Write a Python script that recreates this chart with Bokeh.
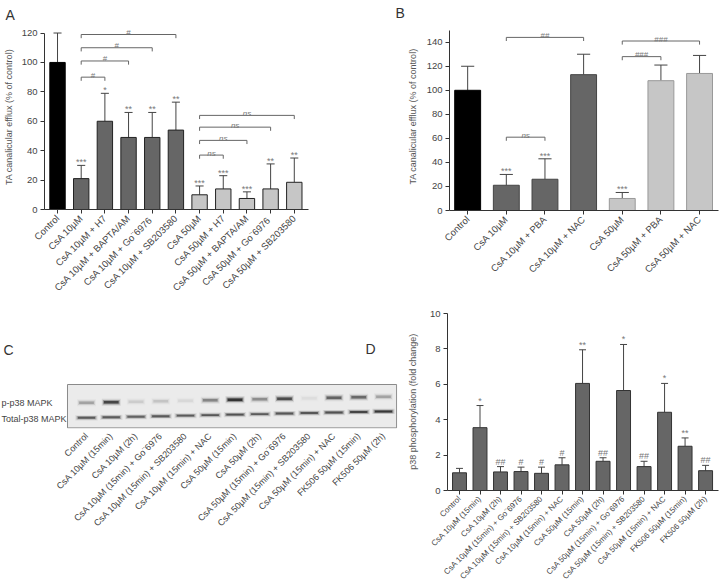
import math
from bokeh.plotting import figure
from bokeh.models import Range1d, FixedTicker, Title
from bokeh.layouts import row, column
from bokeh.embed import file_html
from bokeh.resources import INLINE
from bokeh.core.properties import value

# ---------------- data ----------------
a_labels = ["Control", "CsA 10µM", "CsA 10µM + H7", "CsA 10µM + BAPTA/AM", "CsA 10µM  + Go¨6976",
            "CsA 10µM + SB203580", "CsA 50µM", "CsA 50µM + H7", "CsA 50µM + BAPTA/AM",
            "CsA 50µM  + Go¨6976", "CsA 50µM + SB203580"]
a_groups = ["ctrl", "c10", "c10", "c10", "c10", "c10", "c50", "c50", "c50", "c50", "c50"]
a_means = [100, 21, 60, 49, 49, 54, 10, 14, 7.5, 14, 18.5]
a_errs = [20, 9, 19, 17, 17, 19, 6, 9, 4.5, 17, 16.5]
a_stars = ["", "***", "*", "**", "**", "**", "***", "***", "***", "**", "**"]
a_br_from = [1, 1, 1, 1, 6, 6, 6, 6]
a_br_to = [2, 3, 4, 5, 7, 8, 9, 10]
a_br_y = [90, 101, 110, 119, 37, 47, 56, 64]
a_br_txt = ["#", "#", "#", "#", "ns", "ns", "ns", "ns"]
a_yticks = [0, 20, 40, 60, 80, 100, 120]

b_labels = ["Control", "CsA 10µM", "CsA 10µM + PBA", "CsA 10µM + NAC", "CsA 50µM",
            "CsA 50µM + PBA", "CsA 50µM + NAC"]
b_groups = ["ctrl", "c10", "c10", "c10", "c50", "c50", "c50"]
b_means = [100, 21, 26, 113, 10, 108, 114]
b_errs = [20, 9, 17, 17, 5, 13, 15]
b_stars = ["", "***", "***", "", "***", "", ""]
b_br_from = [1, 4, 4, 1]
b_br_to = [3, 6, 5, 2]
b_br_y = [144, 141, 128, 61]
b_br_txt = ["##", "###", "###", "ns"]
b_yticks = [0, 20, 40, 60, 80, 100, 120, 140]

d_labels = ["Control", "CsA 10µM (15min)", "CsA 10µM (2h)", "CsA 10µM (15min) + Go¨6976",
            "CsA 10µM (15min) + SB203580", "CsA 10µM (15min) + NAC", "CsA 50µM (15min)",
            "CsA 50µM (2h)", "CsA 50µM (15min) + Go¨6976", "CsA 50µM (15min) + SB203580",
            "CsA 50µM (15min) + NAC", "FK506 50µM (15min)", "FK506 50µM (2h)"]
d_means = [1.0, 3.55, 1.05, 1.07, 0.97, 1.45, 6.05, 1.65, 5.65, 1.35, 4.42, 2.5, 1.12]
d_errs = [0.25, 1.25, 0.3, 0.25, 0.35, 0.4, 1.9, 0.2, 2.6, 0.3, 1.63, 0.47, 0.3]
d_marks = ["", "*", "##", "#", "#", "#", "**", "##", "*", "##", "*", "**", "##"]
d_yticks = [0, 2, 4, 6, 8, 10]

c_lanes = d_labels
c_phospho = [0.3, 0.85, 0.12, 0.15, 0.07, 0.45, 1.0, 0.4, 0.8, 0.05, 0.65, 0.6, 0.3]
c_total = [0.7, 0.7, 0.65, 0.7, 0.7, 0.72, 0.75, 0.7, 0.72, 0.72, 0.75, 0.85, 0.95]
c_rows = ["p-p38 MAPK", "Total-p38 MAPK"]

# ---------------- helpers ----------------
FONT = "Liberation Sans"
TXT = "#777777"


class Panel:
    """Figure whose frame geometry is given in pixels (w, h, borders)."""

    def __init__(self, w, h, l, r, t, b, xr, yr):
        self.l, self.t = l, t
        self.fw, self.fh = w - l - r, h - t - b
        self.xr, self.yr = xr, yr
        p = figure(width=w, height=h, x_range=Range1d(*xr), y_range=Range1d(*yr),
                   output_backend="svg", toolbar_location=None, frame_align=False,
                   min_border_left=l, min_border_right=r, min_border_top=t,
                   min_border_bottom=b)
        p.outline_line_color = None
        p.grid.visible = False
        p.background_fill_color = "white"
        p.border_fill_color = "white"
        for ax in p.axis:
            ax.axis_line_color = "#333333"
            ax.axis_line_width = 1
            ax.major_tick_line_color = "#333333"
            ax.major_tick_out = 4
            ax.major_tick_in = 0
            ax.minor_tick_line_color = None
            ax.major_label_text_font = FONT
            ax.major_label_text_color = "#444444"
            ax.axis_label_text_font = FONT
            ax.axis_label_text_font_style = "normal"
            ax.axis_label_text_color = "#555555"
            ax.axis_label_text_font_size = "9px"
            ax.major_label_standoff = 3
        self.p = p

    def data(self, px, py):
        x0, x1 = self.xr
        y0, y1 = self.yr
        dx = x0 + (px - self.l) / self.fw * (x1 - x0)
        dy = y0 + (self.t + self.fh - py) / self.fh * (y1 - y0)
        return dx, dy

    def text(self, s, px, py, size="14px", color="#333333", baseline="top"):
        dx, dy = self.data(px, py)
        self.p.text(x=[dx], y=[dy], text=[s], text_font=value(FONT), text_font_size=size,
                    text_color=color, text_baseline=baseline, text_align="left")

    def letter_title(self, s, px):
        self.p.title = Title(text=s, align="left", offset=px - self.l, text_font=FONT,
                             text_font_size="14px", text_font_style="normal",
                             text_color="#333333", standoff=4)


def set_x_labels(p, labels, fs):
    idx = list(range(len(labels)))
    p.xaxis.ticker = FixedTicker(ticks=idx)
    p.xaxis.major_label_overrides = {i: s for i, s in zip(idx, labels)}
    p.xaxis.major_label_orientation = math.pi / 4
    p.xaxis.major_label_text_font_size = fs


def draw_bars(p, means, errs, fills, lines, width, cap):
    xs = list(range(len(means)))
    tops = [m + e for m, e in zip(means, errs)]
    p.segment(x0=xs, y0=means, x1=xs, y1=tops, line_color="#444444", line_width=1)
    p.segment(x0=[x - cap for x in xs], y0=tops, x1=[x + cap for x in xs], y1=tops,
              line_color="#444444", line_width=1)
    p.vbar(x=xs, top=means, bottom=0, width=width, fill_color=fills, line_color=lines,
           line_width=1)
    return xs, tops


def draw_marks(p, xs, tops, marks, yoff, fs):
    p.text(x=xs, y=tops, text=marks, text_font=value(FONT), text_font_size=fs,
           text_color=TXT, text_align="center", text_baseline="alphabetic", y_offset=yoff)


def draw_brackets(p, x0s, x1s, ys, txts, drop, fs):
    p.segment(x0=x0s, y0=ys, x1=x1s, y1=ys, line_color="#666666", line_width=1)
    p.segment(x0=x0s, y0=ys, x1=x0s, y1=[y - drop for y in ys], line_color="#666666", line_width=1)
    p.segment(x0=x1s, y0=ys, x1=x1s, y1=[y - drop for y in ys], line_color="#666666", line_width=1)
    mids = [(a + b) / 2 for a, b in zip(x0s, x1s)]
    for style in ("normal", "italic"):
        sel = [i for i, t in enumerate(txts) if (t == "ns") == (style == "italic")]
        if not sel:
            continue
        p.text(x=[mids[i] for i in sel], y=[ys[i] for i in sel], text=[txts[i] for i in sel],
               text_font=value(FONT), text_font_size=fs, text_font_style=style,
               text_color=TXT, text_align="center", text_baseline="alphabetic",
               y_offset=-2)


FILL = {"ctrl": "#000000", "c10": "#666666", "c50": "#c6c6c6"}

# ---------------- panel A ----------------
A = Panel(360, 300, 42, 52, 24, 91, (-0.55, 10.6), (0, 125.8))
pa = A.p
pa.yaxis.ticker = FixedTicker(ticks=a_yticks)
pa.yaxis.bounds = (0, 120)
pa.yaxis.major_label_text_font_size = "9.5px"
pa.yaxis.axis_label = "TA canalicular efflux (% of control)"
pa.yaxis.axis_label_standoff = 5
set_x_labels(pa, a_labels, "9.5px")
xs, tops = draw_bars(pa, a_means, a_errs, [FILL[g] for g in a_groups],
                     ["#000000" if g == "ctrl" else "#222222" for g in a_groups], 0.65, 0.17)
draw_marks(pa, xs, tops, a_stars, -3, "9px")
draw_brackets(pa, a_br_from, a_br_to, a_br_y, a_br_txt, 2.5, "8px")
A.letter_title("A", 3)

# ---------------- panel B ----------------
B = Panel(359, 300, 89, 1, 22, 90, (-0.47, 6.49), (0, 156.4))
pb = B.p
pb.yaxis.ticker = FixedTicker(ticks=b_yticks)
pb.yaxis.bounds = (0, 150)
pb.yaxis.major_label_text_font_size = "9.5px"
pb.yaxis.axis_label = "TA canalicular efflux (% of control)"
pb.yaxis.axis_label_standoff = 6
set_x_labels(pb, b_labels, "9.5px")
xs, tops = draw_bars(pb, b_means, b_errs, [FILL[g] for g in b_groups],
                     ["#000000" if g == "ctrl" else ("#444444" if g == "c10" else "#999999")
                      for g in b_groups], 0.67, 0.17)
draw_marks(pb, xs, tops, b_stars, -3, "9px")
draw_brackets(pb, b_br_from, b_br_to, b_br_y, b_br_txt, 3, "8px")
B.letter_title("B", 35)

# ---------------- panel C (blot) ----------------
# frame spans x 0..397 and y 330..428 of the page (y data = px above blot bottom)
C = Panel(398, 287, 0, 1, 30, 159, (-3.475, 12.566), (0, 98))
pc = C.p
pc.yaxis.visible = False
set_x_labels(pc, c_lanes, "9px")
pc.xaxis.axis_line_color = None
pc.xaxis.major_tick_line_color = None
pc.xaxis.major_tick_out = 0
pc.xaxis.major_label_standoff = 6
pc.quad(left=[-0.768], right=[12.53], bottom=[0.6], top=[44], fill_color="#ebebeb",
        line_color="#8a8a8a", line_width=1)
lanes = list(range(len(c_lanes)))
y_p = [25.7 + 0.5 * i for i in lanes]
y_t = [10.7 + 0.53 * i for i in lanes]
for wf, hpx, af in ((0.9, 7, 0.12), (0.8, 4.5, 0.35), (0.7, 2.5, 0.75)):
    pc.rect(x=lanes, y=y_p, width=wf * 0.85, height=hpx, height_units="screen",
            fill_color="#141414", line_color=None, fill_alpha=[v * af for v in c_phospho])
    pc.rect(x=lanes, y=y_t, width=wf, height=hpx * 0.75, height_units="screen",
            fill_color="#141414", line_color=None, fill_alpha=[v * af for v in c_total])
C.text(c_rows[0], 1, 102, size="9px", color="#444444", baseline="middle")
C.text(c_rows[1], 1, 118, size="9px", color="#444444", baseline="middle")
C.text("C", 3, 41)
C.text("D", 365, 40)

# ---------------- panel D ----------------
D = Panel(321, 287, 49, 1, 10, 96, (-0.585, 12.63), (0, 10.17))
pd_ = D.p
pd_.yaxis.ticker = FixedTicker(ticks=d_yticks)
pd_.yaxis.bounds = (0, 10)
pd_.yaxis.major_label_text_font_size = "9.5px"
pd_.yaxis.axis_label = "p38 phosphorylation  (fold change)"
pd_.yaxis.axis_label_standoff = 9
set_x_labels(pd_, d_labels, "8px")
xs, tops = draw_bars(pd_, d_means, d_errs, ["#666666"] * len(d_means),
                     ["#333333"] * len(d_means), 0.68, 0.17)
draw_marks(pd_, xs, tops, d_marks, -5, "9px")

layout = column(row(pa, pb), row(pc, pd_))
open("out.html", "w").write(file_html(layout, INLINE))
